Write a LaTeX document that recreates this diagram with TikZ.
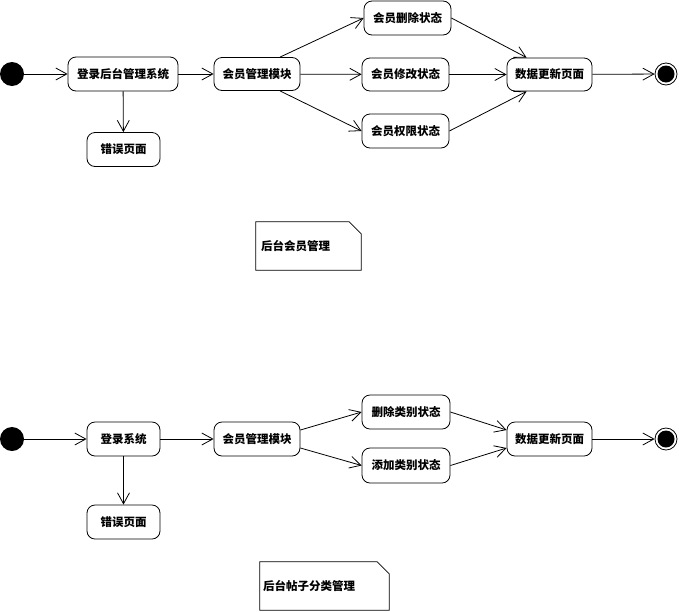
\documentclass[tikz,border=0pt]{standalone}
\usepackage{fontspec}
\newfontfamily\cjk{Noto Sans CJK SC}
\usetikzlibrary{arrows.meta,calc}
\tikzset{
  state/.style={draw, rounded corners=8pt, line width=0.8pt, inner sep=0pt,
    font=\cjk\bfseries\fontsize{11.5}{14}\selectfont},
  flow/.style={line width=0.8pt, -{Straight Barb[length=11pt,width=12pt,line width=0.8pt]}},
  startdot/.style={circle, fill=black, minimum size=24pt, inner sep=0pt},
  endring/.style={circle, draw, line width=0.8pt, minimum size=22pt, inner sep=0pt},
  notebox/.style={inner sep=0pt, text width=#1, align=left,
    font=\cjk\bfseries\fontsize{11.5}{14}\selectfont},
}
\begin{document}
\begin{tikzpicture}[x=1pt,y=-1pt]
\useasboundingbox (0,0) rectangle (679,611);

% ---------- top diagram ----------
\node[startdot] (s1) at (12,74) {};
\node[state, minimum width=110pt, minimum height=34pt] (login1) at (123,74) {登录后台管理系统};
\node[state, minimum width=73pt, minimum height=34pt] (err1) at (123.5,149.5) {错误页面};
\node[state, minimum width=86pt, minimum height=33pt] (mod1) at (257,74) {会员管理模块};
\node[state, minimum width=87pt, minimum height=34pt] (del1) at (407.5,18) {会员删除状态};
\node[state, minimum width=87pt, minimum height=33pt] (modf1) at (405.5,74.5) {会员修改状态};
\node[state, minimum width=87pt, minimum height=34pt] (perm1) at (405.5,131) {会员权限状态};
\node[state, minimum width=85pt, minimum height=33pt] (data1) at (549.5,74.5) {数据更新页面};
\node[endring] (e1) at (666,74) {};
\fill (e1.center) circle (8.5pt);

\draw[flow] (s1) -- (login1);
\draw[flow] (login1) -- (mod1);
\draw[flow] (login1) -- (err1);
\draw[flow] ($(mod1.north)+(23,0)$) -- (del1.west);
\draw[flow] (mod1) -- (modf1);
\draw[flow] ($(mod1.south)+(23,0)$) -- (perm1.west);
\draw[flow] (del1.east) -- ($(data1.north west)+(20,0)$);
\draw[flow] (modf1) -- (data1);
\draw[flow] (perm1.east) -- ($(data1.south west)+(20,0)$);
\draw[flow] (data1) -- (e1);

\node[notebox=105pt, minimum height=48pt] (n1) at (308.5,246) {\hspace*{5pt}后台会员管理};
\draw[line width=0.8pt] (n1.north west) -- ($(n1.north east)+(-12,0)$) -- ($(n1.north east)+(0,12)$)
  -- (n1.south east) -- (n1.south west) -- cycle;

% ---------- bottom diagram ----------
\node[startdot] (s2) at (12,439) {};
\node[state, minimum width=73pt, minimum height=34pt] (login2) at (123.5,439) {登录系统};
\node[state, minimum width=73pt, minimum height=34pt] (err2) at (123.5,522) {错误页面};
\node[state, minimum width=86pt, minimum height=34pt] (mod2) at (257,439) {会员管理模块};
\node[state, minimum width=88pt, minimum height=34pt] (del2) at (406,412) {删除类别状态};
\node[state, minimum width=88pt, minimum height=35pt] (add2) at (406,465.5) {添加类别状态};
\node[state, minimum width=85pt, minimum height=34pt] (data2) at (549.5,439) {数据更新页面};
\node[endring] (e2) at (666,439) {};
\fill (e2.center) circle (8.5pt);

\draw[flow] (s2) -- (login2);
\draw[flow] (login2) -- (mod2);
\draw[flow] (login2) -- (err2);
\draw[flow] ($(mod2.east)+(0,-9)$) -- (del2.west);
\draw[flow] ($(mod2.east)+(0,9)$) -- (add2.west);
\draw[flow] (del2.east) -- ($(data2.west)+(0,-9)$);
\draw[flow] (add2.east) -- ($(data2.west)+(0,9)$);
\draw[flow] (data2) -- (e2);

\node[notebox=129pt, minimum height=48pt] (n2) at (324.5,586) {\hspace*{3pt}后台帖子分类管理};
\draw[line width=0.8pt] (n2.north west) -- ($(n2.north east)+(-12,0)$) -- ($(n2.north east)+(0,12)$)
  -- (n2.south east) -- (n2.south west) -- cycle;
\end{tikzpicture}
\end{document}
